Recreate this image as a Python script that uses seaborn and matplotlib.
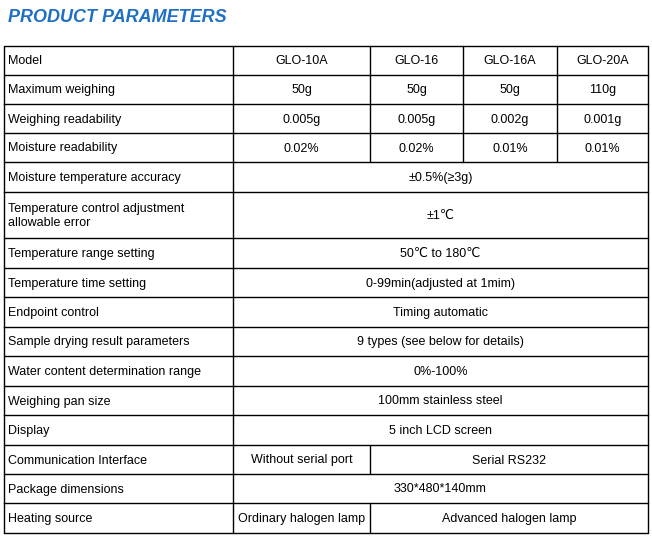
import matplotlib
matplotlib.use("Agg")
import matplotlib.pyplot as plt
import seaborn as sns

sns.set_theme(style="white")
plt.rcParams['font.family'] = ['Liberation Sans Narrow', 'Liberation Sans', 'DejaVu Sans']

title = "PRODUCT PARAMETERS"
row_labels = ["Model", "Maximum weighing", "Weighing readability", "Moisture readability",
              "Moisture temperature accuracy",
              "Temperature control adjustment\nallowable error",
              "Temperature range setting", "Temperature time setting", "Endpoint control",
              "Sample drying result parameters", "Water content determination range",
              "Weighing pan size", "Display", "Communication Interface",
              "Package dimensions", "Heating source"]
row_values = [
    ["GLO-10A", "GLO-16", "GLO-16A", "GLO-20A"],
    ["50g", "50g", "50g", "110g"],
    ["0.005g", "0.005g", "0.002g", "0.001g"],
    ["0.02%", "0.02%", "0.01%", "0.01%"],
    ["±0.5%(≥3g)"],
    ["±1℃"],
    ["50℃ to 180℃"],
    ["0-99min(adjusted at 1mim)"],
    ["Timing automatic"],
    ["9 types (see below for details)"],
    ["0%-100%"],
    ["100mm stainless steel"],
    ["5 inch LCD screen"],
    ["Without serial port", "Serial RS232"],
    ["330*480*140mm"],
    ["Ordinary halogen lamp", "Advanced halogen lamp"],
]

col_edges = [4, 233, 370, 463, 557, 648]
row_edges = [46, 75, 104, 133, 162, 192, 238, 268, 297, 327, 356, 386, 415, 445, 474, 503, 533]

fig = plt.figure(figsize=(6.52, 5.39), dpi=100)
ax = fig.add_axes([0, 0, 1, 1])
ax.set_xlim(0, 652)
ax.set_ylim(539, 0)
ax.axis("off")

ax.text(8, 17, title, color="#1f6fc5", fontsize=13, fontweight="bold", fontstyle="italic",
        va="center", ha="left", family=['Liberation Sans', 'DejaVu Sans'])

lw = 1.0
fs = 9
for i, (label, vals) in enumerate(zip(row_labels, row_values)):
    y0, y1 = row_edges[i], row_edges[i + 1]
    ym = (y0 + y1) / 2 + 1
    ax.text(col_edges[0] + 4, ym, label, fontsize=fs, va="center", ha="left", color="black",
            linespacing=1.3)
    if len(vals) == 4:
        spans = [(1, 2), (2, 3), (3, 4), (4, 5)]
    elif len(vals) == 2:
        spans = [(1, 2), (2, 5)]
    else:
        spans = [(1, 5)]
    for v, (a, b) in zip(vals, spans):
        xm = (col_edges[a] + col_edges[b]) / 2
        ax.text(xm, ym, v, fontsize=fs, va="center", ha="center", color="black")
        ax.plot([col_edges[a], col_edges[a]], [y0, y1], color="black", lw=lw)
    ax.plot([col_edges[0], col_edges[0]], [y0, y1], color="black", lw=lw)
    ax.plot([col_edges[-1], col_edges[-1]], [y0, y1], color="black", lw=lw)
for y in row_edges:
    ax.plot([col_edges[0], col_edges[-1]], [y, y], color="black", lw=lw)

fig.savefig("out.png", dpi=100)
